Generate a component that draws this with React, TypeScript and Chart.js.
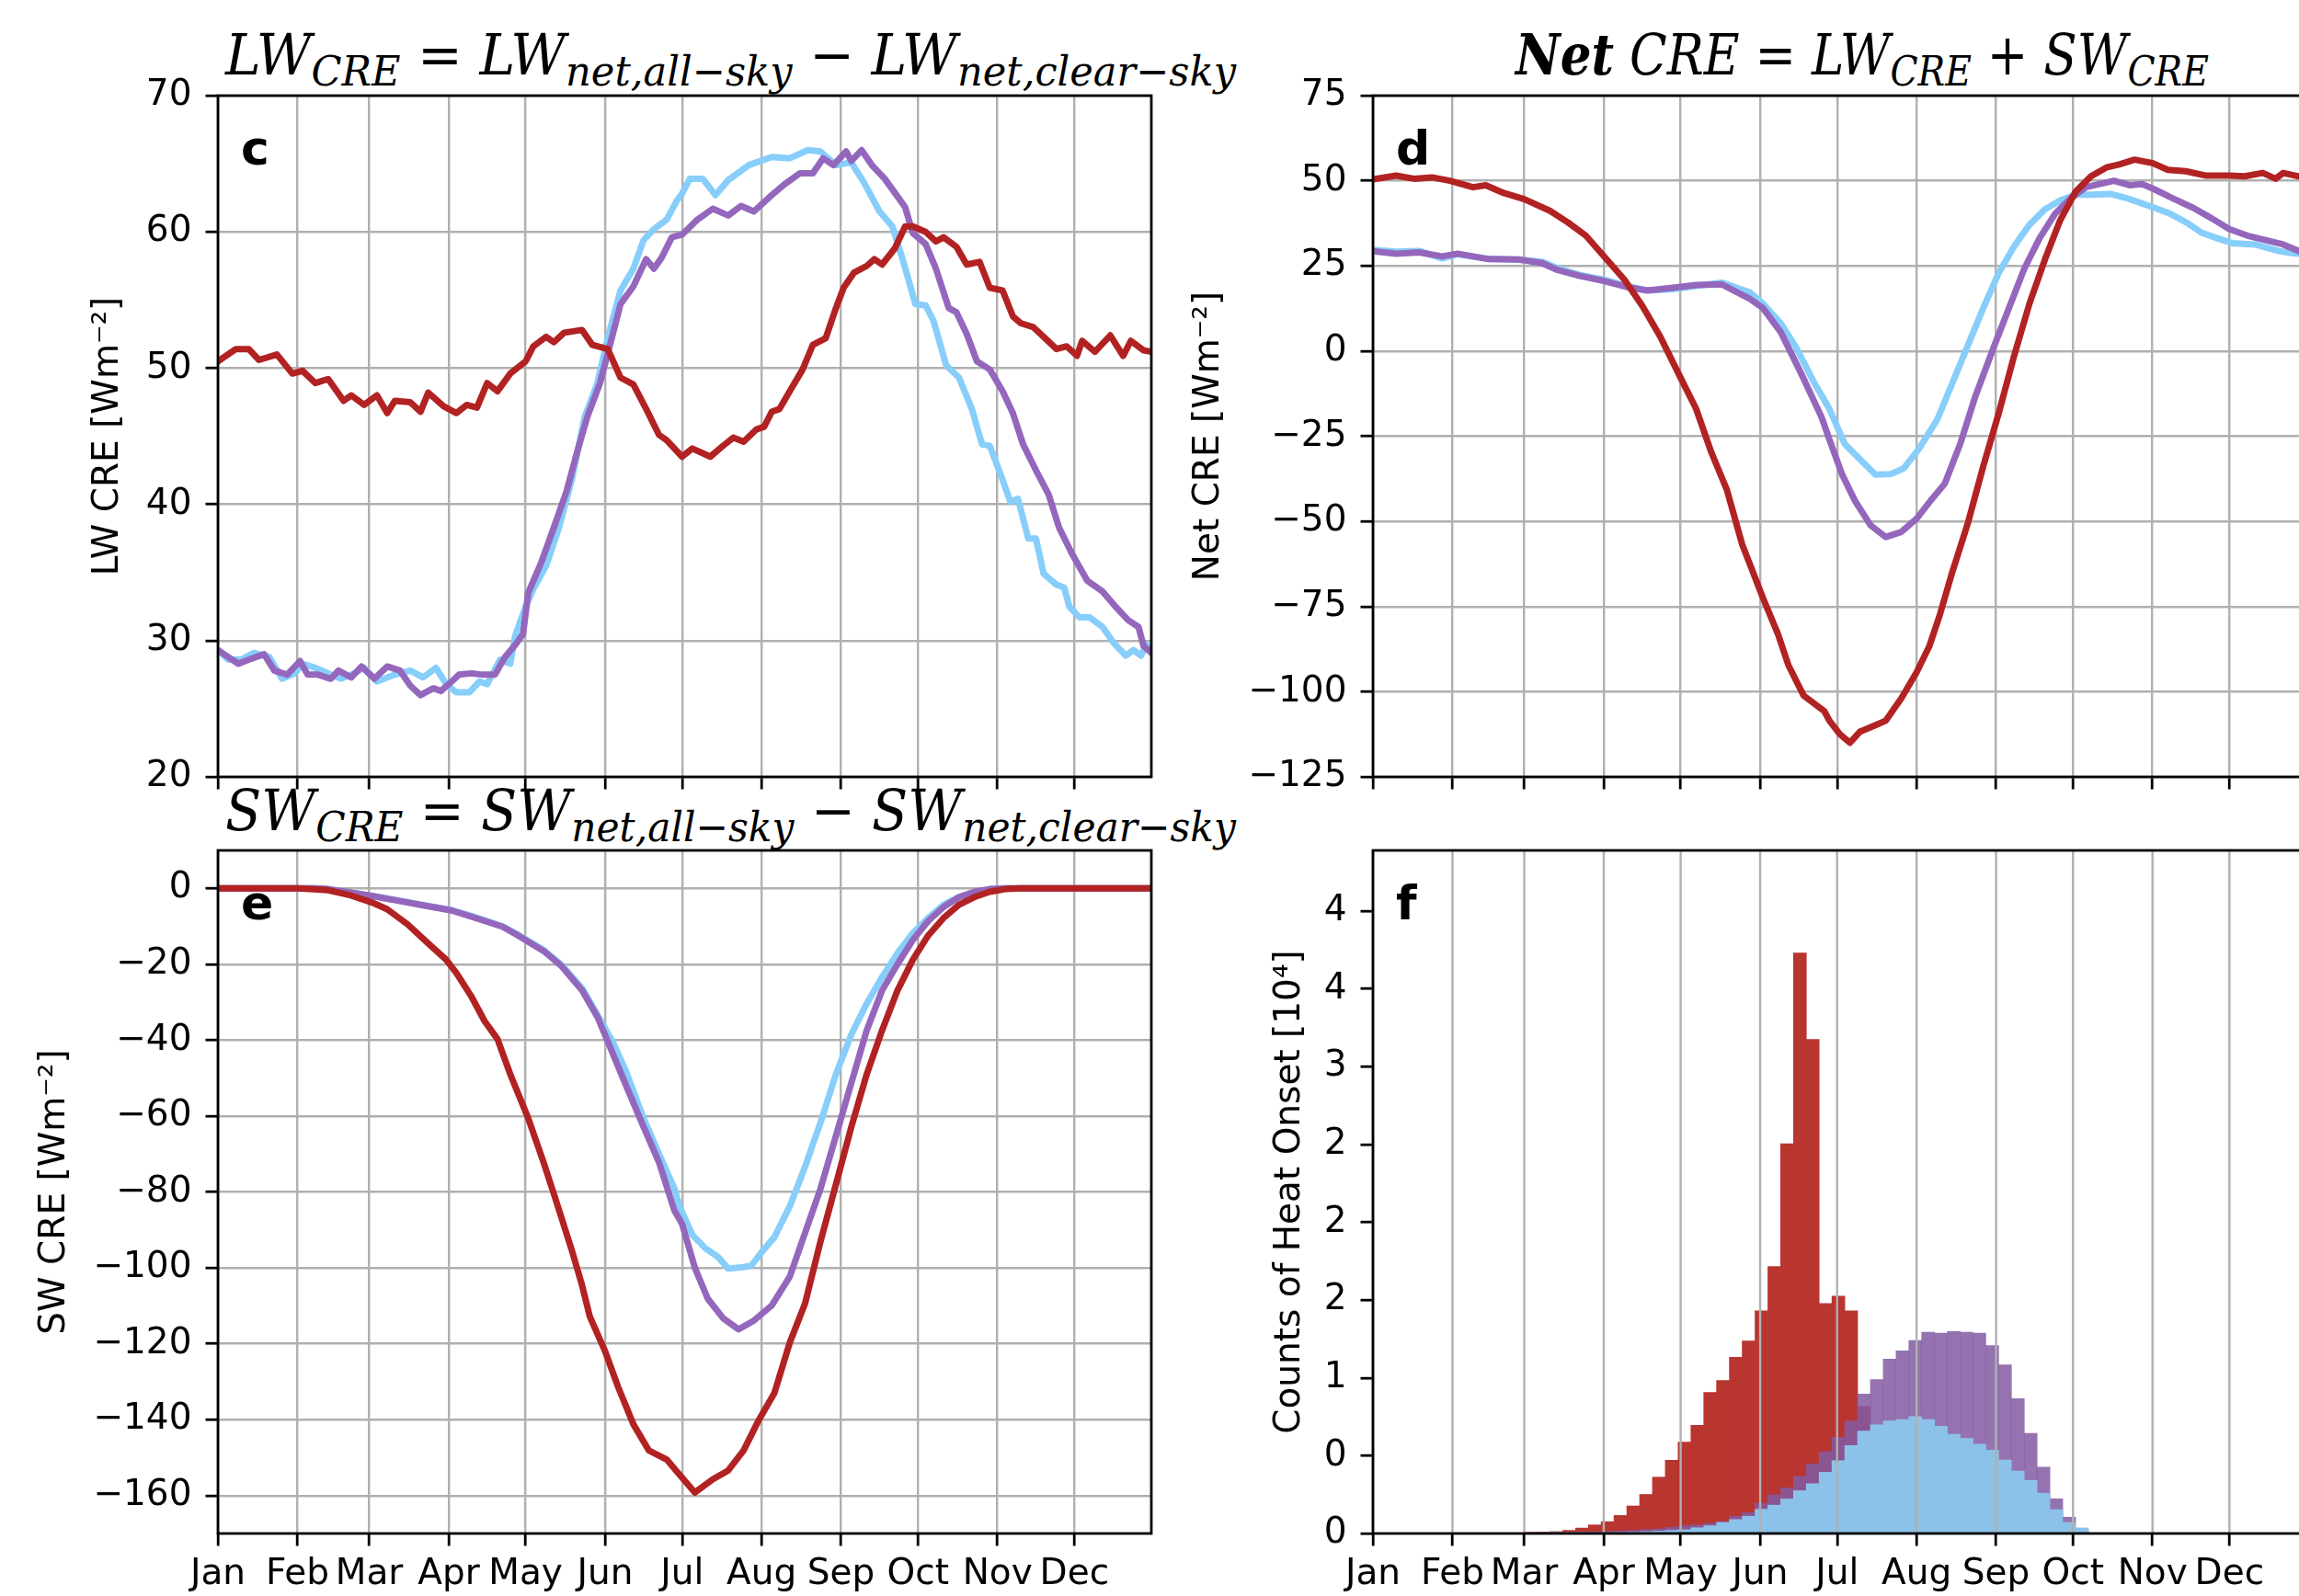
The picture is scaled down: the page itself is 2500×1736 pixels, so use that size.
import React, { useEffect, useLayoutEffect, useRef } from 'react';
import { Chart, registerables } from 'chart.js';

Chart.register(...registerables);

// ---------------- data ----------------
const monthTicks = [1, 32, 60, 91, 121, 152, 182, 213, 244, 274, 305, 335];
const monthLabels = ['Jan', 'Feb', 'Mar', 'Apr', 'May', 'Jun', 'Jul', 'Aug', 'Sep', 'Oct', 'Nov', 'Dec'];

const lwTicks = [20, 30, 40, 50, 60, 70];
const netTicks = [-125, -100, -75, -50, -25, 0, 25, 50, 75];
const swTicks = [-160, -140, -120, -100, -80, -60, -40, -20, 0];
const countTicks = [0, 0.5, 1, 1.5, 2, 2.5, 3, 3.5, 4];
const countTickLabels = ['0', '0', '1', '2', '2', '2', '3', '4', '4'];

// panel c : LW CRE
const lwRedDay = [1, 8, 13, 17, 24, 30, 34, 39, 44, 50, 53, 58, 63, 67, 70, 76, 80, 83, 89, 94, 98, 102, 106, 110, 115, 121, 124, 129, 132, 136, 143, 147, 153, 158, 163, 168, 173, 176, 182, 186, 193, 198, 202, 206, 211, 214, 217, 220, 224, 229, 233, 238, 242, 245, 249, 254, 257, 260, 265, 269, 272, 277, 281, 284, 289, 293, 298, 302, 307, 311, 314, 319, 323, 328, 332, 336, 338, 343, 349, 354, 357, 362, 365];
const lwRedVal = [50.5, 51.4, 51.4, 50.6, 51.0, 49.6, 49.8, 48.9, 49.2, 47.6, 48.0, 47.3, 48.0, 46.7, 47.6, 47.5, 46.8, 48.2, 47.2, 46.7, 47.3, 47.1, 48.9, 48.3, 49.6, 50.5, 51.6, 52.3, 51.9, 52.6, 52.8, 51.7, 51.4, 49.3, 48.8, 47.0, 45.1, 44.7, 43.5, 44.1, 43.5, 44.3, 44.9, 44.6, 45.5, 45.7, 46.8, 47.0, 48.3, 49.9, 51.7, 52.2, 54.4, 55.9, 57.0, 57.5, 58.0, 57.6, 58.8, 60.4, 60.4, 60.0, 59.3, 59.6, 58.9, 57.6, 57.8, 55.9, 55.7, 53.8, 53.3, 53.0, 52.3, 51.4, 51.6, 50.9, 52.0, 51.2, 52.4, 50.9, 52.0, 51.3, 51.2];
const lwPurpleDay = [1, 5, 9, 13, 19, 23, 28, 33, 36, 40, 45, 48, 53, 57, 62, 67, 72, 76, 80, 85, 88, 91, 95, 100, 104, 109, 113, 117, 120, 122, 127, 132, 137, 141, 145, 150, 155, 158, 163, 168, 171, 174, 178, 182, 188, 194, 200, 205, 210, 217, 222, 228, 233, 237, 241, 246, 248, 252, 256, 261, 266, 269, 272, 277, 281, 286, 289, 293, 297, 302, 307, 311, 315, 320, 325, 329, 334, 340, 346, 351, 356, 360, 362, 365];
const lwPurpleVal = [29.3, 28.8, 28.3, 28.6, 29.0, 27.8, 27.5, 28.5, 27.5, 27.5, 27.2, 27.8, 27.3, 28.1, 27.2, 28.1, 27.8, 26.7, 26.0, 26.5, 26.3, 26.8, 27.5, 27.6, 27.5, 27.5, 28.8, 29.7, 30.5, 33.5, 35.7, 38.3, 41.0, 43.8, 46.4, 48.9, 52.5, 54.7, 56.0, 58.0, 57.3, 58.1, 59.6, 59.8, 60.9, 61.7, 61.2, 61.9, 61.5, 62.7, 63.5, 64.3, 64.3, 65.4, 64.9, 65.9, 65.2, 66.0, 64.9, 63.9, 62.6, 61.8, 59.9, 59.1, 57.3, 54.4, 54.1, 52.5, 50.5, 49.9, 48.3, 46.7, 44.4, 42.5, 40.7, 38.3, 36.4, 34.4, 33.6, 32.5, 31.5, 31.0, 29.6, 29.1];
const lwBlueDay = [1, 5, 10, 15, 21, 26, 31, 34, 39, 44, 49, 53, 58, 63, 70, 76, 81, 86, 90, 94, 99, 103, 106, 111, 115, 117, 121, 124, 129, 134, 139, 144, 149, 153, 158, 163, 167, 171, 176, 180, 182, 185, 190, 195, 200, 208, 217, 224, 231, 236, 242, 248, 253, 259, 264, 268, 273, 277, 280, 285, 290, 295, 299, 302, 307, 310, 313, 317, 320, 323, 328, 331, 333, 337, 341, 346, 350, 355, 358, 361, 363, 365];
const lwBlueVal = [29.3, 28.6, 28.6, 29.1, 28.8, 27.2, 27.6, 28.3, 28.0, 27.6, 27.2, 27.5, 28.0, 27.0, 27.5, 27.8, 27.3, 28.0, 26.8, 26.2, 26.2, 27.0, 26.8, 28.6, 28.3, 30.4, 32.5, 33.8, 35.5, 38.3, 41.8, 46.4, 48.9, 52.2, 55.7, 57.3, 59.4, 60.2, 60.9, 62.3, 62.8, 63.9, 63.9, 62.7, 63.8, 64.9, 65.5, 65.4, 66.0, 65.9, 64.9, 65.1, 63.6, 61.5, 60.4, 58.0, 54.7, 54.6, 53.5, 50.2, 49.3, 47.0, 44.4, 44.3, 41.8, 40.2, 40.4, 37.5, 37.5, 34.9, 34.1, 33.9, 32.5, 31.7, 31.7, 31.0, 29.9, 28.9, 29.3, 28.9, 29.7, 29.5];

// panel d : Net CRE
const netRedDay = [1, 10, 17, 24, 31, 40, 45, 52, 60, 70, 77, 84, 91, 99, 106, 113, 121, 127, 133, 139, 145, 153, 159, 163, 169, 177, 179, 183, 187, 191, 197, 201, 207, 213, 218, 222, 227, 233, 239, 245, 251, 257, 263, 269, 275, 281, 287, 292, 298, 305, 311, 318, 326, 335, 341, 348, 353, 356, 362, 365];
const netRedVal = [50.4, 51.5, 50.6, 51.0, 50.0, 48.1, 48.7, 46.4, 44.6, 41.2, 37.8, 33.9, 27.9, 21.0, 13.3, 4.3, -7.9, -16.9, -29.8, -40.7, -56.8, -72.3, -83.2, -92.2, -101.2, -105.7, -108.5, -112.4, -115.0, -111.7, -109.8, -108.5, -102.0, -94.3, -86.6, -77.6, -64.7, -50.5, -33.8, -18.3, -1.5, 13.9, 26.8, 38.4, 46.8, 51.3, 53.9, 54.8, 56.2, 55.2, 53.2, 52.8, 51.5, 51.5, 51.3, 52.3, 50.6, 52.3, 51.3, 51.5];
const netPurpleDay = [1, 10, 19, 28, 34, 46, 58, 67, 73, 82, 91, 100, 108, 118, 127, 137, 148, 153, 160, 168, 176, 179, 184, 189, 195, 201, 207, 213, 219, 224, 230, 236, 243, 249, 255, 261, 267, 273, 279, 284, 290, 296, 301, 306, 313, 321, 328, 335, 342, 349, 356, 362, 365];
const netPurpleVal = [29.3, 28.6, 29.0, 27.8, 28.6, 27.0, 26.9, 25.8, 23.8, 22.0, 20.6, 18.8, 17.8, 18.6, 19.4, 19.6, 15.3, 12.7, 5.6, -6.6, -19.5, -26.0, -36.3, -44.0, -51.1, -54.6, -53.1, -49.2, -43.4, -38.9, -27.3, -13.1, 1.0, 12.6, 24.2, 33.2, 40.3, 44.8, 48.1, 49.0, 50.0, 48.7, 49.0, 47.4, 44.8, 42.0, 39.0, 35.8, 33.9, 32.6, 31.3, 29.4, 29.0];
const netBlueDay = [1, 10, 19, 28, 34, 46, 58, 67, 73, 82, 91, 100, 108, 118, 127, 137, 148, 153, 160, 166, 173, 179, 185, 191, 197, 203, 208, 214, 221, 227, 233, 239, 245, 251, 257, 263, 269, 275, 281, 289, 294, 300, 306, 312, 319, 324, 330, 336, 345, 354, 360, 365];
const netBlueVal = [29.7, 29.2, 29.4, 27.2, 28.4, 27.1, 26.8, 26.2, 24.3, 22.3, 21.0, 19.1, 17.8, 18.2, 19.1, 20.1, 17.2, 14.0, 8.2, 1.1, -9.2, -17.0, -27.3, -31.8, -36.3, -36.1, -34.4, -28.6, -20.2, -9.3, 1.7, 12.6, 22.9, 30.7, 37.1, 41.6, 44.2, 45.9, 45.9, 46.1, 45.1, 43.6, 42.0, 40.3, 37.4, 34.8, 33.2, 31.7, 31.3, 29.4, 28.7, 28.5];

// panel e : SW CRE
const swRedDay = [1, 32, 40, 44, 52, 61, 67, 75, 82, 90, 94, 100, 105, 110, 115, 122, 128, 133, 139, 143, 146, 152, 157, 163, 169, 176, 181, 187, 194, 200, 206, 212, 218, 224, 230, 236, 242, 248, 254, 260, 266, 272, 278, 284, 290, 296, 302, 308, 314, 365];
const swRedVal = [0, 0, -0.3, -0.5, -1.7, -3.7, -5.5, -9.5, -13.9, -18.8, -22.3, -28.7, -35.0, -39.7, -49.0, -60.6, -72.2, -82.6, -95.4, -104.6, -112.8, -122.0, -131.3, -141.2, -148.1, -150.5, -154.5, -159.2, -155.7, -153.4, -148.1, -140.0, -133.0, -119.7, -109.3, -93.0, -78.0, -62.9, -49.0, -37.4, -26.9, -18.8, -12.4, -7.8, -4.3, -2.3, -0.9, -0.2, 0, 0];
const swPurpleDay = [1, 38, 44, 52, 61, 70, 82, 92, 100, 112, 118, 128, 135, 143, 149, 153, 159, 167, 173, 179, 182, 187, 192, 198, 204, 210, 217, 224, 230, 236, 242, 248, 254, 260, 266, 272, 278, 284, 290, 296, 302, 308, 365];
const swPurpleVal = [0, 0, -0.2, -1.0, -2.0, -3.1, -4.6, -5.8, -7.5, -10.1, -12.4, -16.5, -20.5, -26.9, -33.9, -40.3, -50.1, -62.9, -72.2, -84.9, -88.4, -100.0, -108.1, -113.3, -116.2, -113.9, -109.9, -102.3, -90.7, -79.1, -65.2, -51.3, -37.4, -26.9, -20.0, -13.6, -8.6, -4.9, -2.3, -0.9, -0.2, 0, 0];
const swBlueDay = [1, 38, 44, 52, 61, 70, 82, 92, 100, 112, 118, 128, 135, 143, 149, 155, 160, 167, 173, 179, 181, 186, 191, 196, 200, 206, 209, 213, 218, 224, 230, 236, 242, 248, 254, 260, 266, 272, 278, 284, 290, 296, 302, 308, 365];
const swBlueVal = [0, 0, -0.2, -1.0, -2.0, -3.0, -4.5, -5.7, -7.3, -10.0, -12.2, -16.2, -20.2, -26.3, -33.3, -40.5, -48.0, -60.6, -70.0, -79.1, -83.8, -91.3, -94.8, -97.1, -100.2, -99.8, -99.4, -95.9, -91.9, -83.8, -73.3, -61.7, -49.0, -38.5, -30.4, -23.4, -17.1, -11.8, -7.8, -4.3, -2.3, -1.2, -0.2, 0, 0];

// panel f : histogram of heat onset (5-day bins, units of 1e4)
const binStart = [60, 65, 70, 75, 80, 85, 90, 95, 100, 105, 110, 115, 120, 125, 130, 135, 140, 145, 150, 155, 160, 165, 170, 175, 180, 185, 190, 195, 200, 205, 210, 215, 220, 225, 230, 235, 240, 245, 250, 255, 260, 265, 270, 275];
const countRed = [0.005, 0.008, 0.012, 0.02, 0.035, 0.055, 0.076, 0.116, 0.177, 0.251, 0.362, 0.47, 0.587, 0.695, 0.907, 0.983, 1.132, 1.238, 1.431, 1.716, 2.504, 3.73, 3.176, 1.478, 1.525, 1.431, 0.817, 0, 0, 0, 0, 0, 0, 0, 0, 0, 0, 0, 0, 0, 0, 0, 0, 0];
const countPurple = [0, 0, 0.003, 0.005, 0.007, 0.01, 0.012, 0.015, 0.02, 0.025, 0.03, 0.04, 0.05, 0.055, 0.065, 0.076, 0.111, 0.134, 0.195, 0.248, 0.293, 0.367, 0.447, 0.526, 0.618, 0.724, 0.896, 0.989, 1.121, 1.174, 1.24, 1.293, 1.288, 1.298, 1.293, 1.288, 1.208, 1.084, 0.867, 0.644, 0.427, 0.223, 0.105, 0.02];
const countBlue = [0, 0, 0.002, 0.003, 0.004, 0.005, 0.006, 0.008, 0.01, 0.012, 0.015, 0.02, 0.024, 0.037, 0.05, 0.071, 0.09, 0.111, 0.156, 0.182, 0.222, 0.275, 0.32, 0.394, 0.468, 0.566, 0.658, 0.698, 0.724, 0.732, 0.751, 0.732, 0.69, 0.637, 0.611, 0.574, 0.535, 0.472, 0.401, 0.342, 0.259, 0.154, 0.071, 0.036];

// ---------------- style ----------------
const FONT = '"DejaVu Sans", "Noto Sans", sans-serif';
const RED = '#b22222';
const PURPLE = '#9467bd';
const BLUE = '#87cefa';
const BAR_RED = '#b93530';
const BAR_PURPLE = 'rgba(131, 90, 162, 0.85)';
const BAR_BLUE = '#8cc2e9';
const GRID = '#b0b0b0';
const GRID_W = 2.4;
const BOX_W = 2.8;
const LINE_W = 7;
const TICK_FONT = { family: FONT, size: 39 };

const fmt = (v: number) => (v < 0 ? '\u2212' + Math.abs(v) : String(v));

const framePlugin = {
  id: 'frame',
  afterDatasetsDraw(chart: any, _a: any, opts: any) {
    if (!opts || !opts.gridOnTop) return;
    const { ctx, chartArea: a, scales } = chart;
    ctx.save();
    ctx.strokeStyle = GRID;
    ctx.lineWidth = GRID_W;
    for (const t of monthTicks) {
      const px = scales.x.getPixelForValue(t);
      ctx.beginPath();
      ctx.moveTo(px, a.top);
      ctx.lineTo(px, a.bottom);
      ctx.stroke();
    }
    ctx.restore();
  },
  afterDraw(chart: any, _a: any, opts: any) {
    const { ctx, chartArea: a } = chart;
    ctx.save();
    ctx.strokeStyle = '#000';
    ctx.lineWidth = BOX_W;
    ctx.strokeRect(a.left, a.top, a.right - a.left, a.bottom - a.top);
    ctx.fillStyle = '#000';
    ctx.font = `bold 52px ${FONT}`;
    ctx.textAlign = 'left';
    ctx.textBaseline = 'alphabetic';
    ctx.fillText(opts.letter, a.left + 25, a.top + 75);
    ctx.restore();
  },
};

function xScale(showLabels: boolean, gridOnArea: boolean) {
  return {
    type: 'linear',
    min: 1,
    max: 365,
    offset: false,
    afterBuildTicks: (s: any) => {
      s.ticks = monthTicks.map((v) => ({ value: v }));
    },
    afterFit: (s: any) => {
      s.height = showLabels ? 90 : 40;
    },
    ticks: {
      display: showLabels,
      autoSkip: false,
      maxRotation: 0,
      minRotation: 0,
      padding: 8,
      color: '#000',
      font: TICK_FONT,
      callback: (_v: any, i: number) => monthLabels[i],
    },
    grid: {
      color: GRID,
      lineWidth: GRID_W,
      drawOnChartArea: gridOnArea,
      drawTicks: true,
      tickLength: 13.5,
      tickColor: '#000',
      tickWidth: BOX_W,
      offset: false,
    },
    border: { display: false },
  };
}

function yScale(
  min: number,
  max: number,
  ticks: number[],
  labels: string[] | null,
  title: string,
  titlePad: number,
  width: number,
  gridOnArea: boolean
) {
  return {
    type: 'linear',
    min,
    max,
    afterBuildTicks: (s: any) => {
      s.ticks = ticks.map((v) => ({ value: v }));
    },
    afterFit: (s: any) => {
      s.width = width;
    },
    ticks: {
      padding: 15,
      color: '#000',
      font: TICK_FONT,
      callback: (v: any, i: number) => (labels ? labels[i] : fmt(Number(v))),
    },
    title: {
      display: true,
      text: title,
      color: '#000',
      font: { family: FONT, size: 39 },
      padding: { top: titlePad, bottom: 0 },
    },
    grid: {
      color: GRID,
      lineWidth: GRID_W,
      drawOnChartArea: gridOnArea,
      drawTicks: true,
      tickLength: 13.5,
      tickColor: '#000',
      tickWidth: BOX_W,
    },
    border: { display: false },
  };
}

function pts(days: number[], vals: number[]) {
  return days.map((d, i) => ({ x: d, y: vals[i] }));
}

function lineDs(days: number[], vals: number[], color: string) {
  return {
    data: pts(days, vals),
    borderColor: color,
    backgroundColor: color,
    borderWidth: LINE_W,
    pointRadius: 0,
    tension: 0,
    fill: false,
    borderJoinStyle: 'round',
    borderCapStyle: 'round',
  };
}

const basePlugins = (letter: string, gridOnTop = false) => ({
  legend: { display: false },
  tooltip: { enabled: false },
  frame: { letter, gridOnTop },
});

function lineConfig(datasets: any[], y: any, showX: boolean, letter: string) {
  return {
    type: 'line',
    data: { datasets },
    options: {
      animation: false,
      responsive: false,
      devicePixelRatio: 1,
      events: [],
      layout: { padding: { top: 40, right: 20, left: 0, bottom: 0 } },
      plugins: basePlugins(letter),
      scales: { x: xScale(showX, true), y },
    },
    plugins: [framePlugin],
  };
}

const makeC = () =>
  lineConfig(
    [lineDs(lwRedDay, lwRedVal, RED), lineDs(lwPurpleDay, lwPurpleVal, PURPLE), lineDs(lwBlueDay, lwBlueVal, BLUE)],
    yScale(20, 70, lwTicks, null, 'LW CRE [Wm\u207B\u00B2]', 94.6, 237, true),
    false,
    'c'
  );

const makeD = () =>
  lineConfig(
    [lineDs(netRedDay, netRedVal, RED), lineDs(netPurpleDay, netPurpleVal, PURPLE), lineDs(netBlueDay, netBlueVal, BLUE)],
    yScale(-125, 75, netTicks, null, 'Net CRE [Wm\u207B\u00B2]', 21.6, 223, true),
    false,
    'd'
  );

const makeE = () =>
  lineConfig(
    [lineDs(swRedDay, swRedVal, RED), lineDs(swPurpleDay, swPurpleVal, PURPLE), lineDs(swBlueDay, swBlueVal, BLUE)],
    yScale(-170, 10, swTicks, null, 'SW CRE [Wm\u207B\u00B2]', 36.6, 237, true),
    true,
    'e'
  );

function barDs(vals: number[], color: string) {
  return {
    data: binStart.map((s, i) => ({ x: s + 2.5, y: vals[i] })),
    backgroundColor: color,
    borderWidth: 0,
    barPercentage: 1,
    categoryPercentage: 1,
    grouped: false,
  };
}

const makeF = () => ({
  type: 'bar',
  data: {
    datasets: [barDs(countBlue, BAR_BLUE), barDs(countPurple, BAR_PURPLE), barDs(countRed, BAR_RED)],
  },
  options: {
    animation: false,
    responsive: false,
    devicePixelRatio: 1,
    events: [],
    layout: { padding: { top: 40, right: 20, left: 0, bottom: 0 } },
    plugins: basePlugins('f', true),
    scales: {
      x: xScale(true, false),
      y: yScale(0, 4.39, countTicks, countTickLabels, 'Counts of Heat Onset [10\u2074]', 109.6, 223, false),
    },
  },
  plugins: [framePlugin],
});

// ---------------- components ----------------
function ChartBox(props: { left: number; top: number; width: number; height: number; make: () => any }) {
  const ref = useRef<HTMLCanvasElement>(null);
  useEffect(() => {
    if (!ref.current) return;
    const chart = new Chart(ref.current, props.make() as any);
    return () => chart.destroy();
  }, []);
  return (
    <canvas
      ref={ref}
      width={props.width}
      height={props.height}
      style={{ position: 'absolute', left: props.left, top: props.top, width: props.width, height: props.height }}
    />
  );
}

const Sub = ({ children }: { children: React.ReactNode }) => (
  <span style={{ fontSize: '0.74em', position: 'relative', top: 12 }}>{children}</span>
);
const Op = ({ children }: { children: React.ReactNode }) => (
  <span style={{ fontStyle: 'normal' }}>{children}</span>
);

function MathTitle(props: { left: number; baseline: number; target: number; children: React.ReactNode }) {
  const ref = useRef<HTMLDivElement>(null);
  const size = 61;
  useLayoutEffect(() => {
    const el = ref.current;
    if (!el) return;
    el.style.transform = 'none';
    const w = el.getBoundingClientRect().width;
    if (w > 0) el.style.transform = `scaleX(${props.target / w})`;
  }, [props.target]);
  return (
    <div
      ref={ref}
      style={{
        position: 'absolute',
        left: props.left,
        top: props.baseline - 0.846 * size,
        fontFamily: '"DejaVu Serif", "Liberation Serif", serif',
        fontStyle: 'italic',
        fontSize: size,
        lineHeight: `${size}px`,
        whiteSpace: 'nowrap',
        transformOrigin: '0 0',
        color: '#000',
      }}
    >
      {props.children}
    </div>
  );
}

export default function App() {
  return (
    <div
      style={{
        position: 'absolute',
        left: 0,
        top: 0,
        width: 2500,
        height: 1736,
        overflow: 'hidden',
        background: '#ffffff',
      }}
    >
      <MathTitle left={245} baseline={81} target={1099}>
        LW<Sub>CRE</Sub>
        <Op> = </Op>LW<Sub>net,all{'\u2212'}sky</Sub>
        <Op> {'\u2212'} </Op>LW<Sub>net,clear{'\u2212'}sky</Sub>
      </MathTitle>
      <MathTitle left={1648} baseline={81} target={754}>
        <b>Net</b> CRE<Op> = </Op>LW<Sub>CRE</Sub>
        <Op> + </Op>SW<Sub>CRE</Sub>
      </MathTitle>
      <MathTitle left={245} baseline={903} target={1099}>
        SW<Sub>CRE</Sub>
        <Op> = </Op>SW<Sub>net,all{'\u2212'}sky</Sub>
        <Op> {'\u2212'} </Op>SW<Sub>net,clear{'\u2212'}sky</Sub>
      </MathTitle>

      <ChartBox left={0} top={64} width={1272} height={821} make={makeC} />
      <ChartBox left={1270} top={64} width={1258} height={821} make={makeD} />
      <ChartBox left={0} top={885} width={1272} height={873} make={makeE} />
      <ChartBox left={1270} top={885} width={1258} height={873} make={makeF} />
    </div>
  );
}
